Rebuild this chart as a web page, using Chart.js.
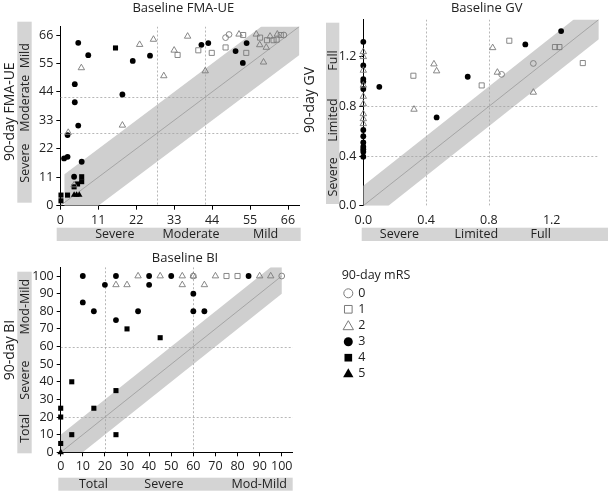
<!DOCTYPE html>
<html><head><meta charset="utf-8">
<script src="https://cdn.jsdelivr.net/npm/chart.js@4/dist/chart.umd.min.js"></script>
<style>
html,body{margin:0;padding:0;background:#fff;width:608px;height:493px;overflow:hidden;position:relative}
canvas{position:absolute}
</style></head><body>
<canvas id="c1" width="304" height="246" style="left:0;top:0"></canvas>
<canvas id="c2" width="308" height="246" style="left:300px;top:0"></canvas>
<canvas id="c3" width="608" height="247" style="left:0;top:246px"></canvas>
<script>
// ---------------- DATA ----------------
const MRS_LABELS = ['0', '1', '2', '3', '4', '5'];

const FMA_TICKS = [0, 11, 22, 33, 44, 55, 66];
const FMA_CUTS = [28, 42];
const FMA_LEVELS = ['Severe', 'Moderate', 'Mild'];
const FMA_MRS0 = [[47.9,65],[48.9,66.2],[64.8,66]];
const FMA_MRS1 = [[34,58.3],[40,60.1],[43.9,59.1],[47.9,61.2],[53,66],[53.9,59.1],[57.9,65],[59.9,64],[61.8,64],[62.7,64.2],[63.9,66]];
const FMA_MRS2 = [[6.1,53.3],[2.3,28.3],[4,8],[18,31.1],[23,62.3],[27,64.3],[30,50.2],[33,60.1],[36.9,65.5],[42,52.1],[51.8,66.3],[56.8,66.3],[57.8,62.2],[59.7,61.2],[58.9,55.5],[60.8,65.5],[62.9,66.3]];
const FMA_MRS3 = [[5.2,63],[8.1,58.2],[4.2,47],[4.2,40],[5.2,31],[2.1,27.3],[1.1,18.3],[2.1,18.9],[6.2,17],[4,11.2],[18,43],[21,56],[26,58],[40.9,62.2],[42.9,62.9],[50.8,59.8],[54,62.9],[52.9,55.2]];
const FMA_MRS4 = [[16,61],[0.2,4.1],[0.2,1.9],[2.1,4.1],[4,7.3],[5,8.4],[6.2,9.3],[6.2,11.2]];
const FMA_MRS5 = [[4,4.2],[4.7,4.2],[5.5,4.2]];

const GV_TICKS = [0, 0.4, 0.8, 1.2];
const GV_TICK_LABELS = ['0.0', '0.4', '0.8', '1.2'];
const GV_CUTS = [0.4, 0.8];
const GV_LEVELS = ['Severe', 'Limited', 'Full'];
const GV_MRS0 = [[1.083,1.146],[0.881,1.058]];
const GV_MRS1 = [[0.319,1.047],[0.754,0.969],[0.93,1.329],[1.221,1.278],[1.249,1.278],[1.398,1.149]];
const GV_MRS2 = [[0,1.24],[0,1.2],[0,1.09],[0,0.97],[0,0.88],[0,0.82],[0,0.74],[0,0.70],[0,0.66],[0.323,0.776],[0.45,1.141],[0.467,1.085],[0.824,1.272],[0.854,1.074],[1.083,0.913]];
const GV_MRS3 = [[0,1.32],[0,1.13],[0,1.02],[0,1.0],[0,0.94],[0,0.61],[0,0.56],[0,0.51],[0,0.475],[0,0.455],[0,0.435],[0,0.395],[0.102,0.958],[0.467,0.711],[0.665,1.039],[1.032,1.299],[1.26,1.407]];
const GV_MRS4 = [];
const GV_MRS5 = [];

const BI_TICKS = [0, 10, 20, 30, 40, 50, 60, 70, 80, 90, 100];
const BI_CUTS = [20, 60];
const BI_LEVELS = ['Total', 'Severe', 'Mod-Mild'];
const BI_MRS0 = [[60,100],[100,100]];
const BI_MRS1 = [[75,100],[80,100]];
const BI_MRS2 = [[25,95],[30,95],[35,100],[45,100],[55,100],[55,95],[60,100],[65,95],[70,100],[90,100],[95,100]];
const BI_MRS3 = [[10,100],[10,85],[15,80],[20,95],[25,100],[25,75],[35,80],[40,100],[40,95],[50,100],[60,90],[60,80],[65,80],[85,100]];
const BI_MRS4 = [[0,25],[0,20],[0,5],[5,40],[5,10],[15,25],[25,35],[25,10],[30,70],[45,65]];
const BI_MRS5 = [[0,0]];

// ---------------- STYLE ----------------
const FONT = '"Open Sans", "Noto Sans", sans-serif';
const TXT = '#222';
const BAR = '#d4d4d4';
const BAND = '#cfcfcf';
const OPEN = '#7a7a7a';
const MRS_STYLE = [
  {ps:'circle', r:2.9, fill:false},
  {ps:'rect', r:3.6, fill:false},
  {ps:'triangle', r:3.7, fill:false},
  {ps:'circle', r:2.9, fill:true},
  {ps:'rect', r:3.6, fill:true},
  {ps:'triangle', r:3.7, fill:true}
];

function markerSets(groups) {
  return groups.map((pts, i) => {
    const s = MRS_STYLE[i];
    return {
      type: 'scatter', label: MRS_LABELS[i], order: 0, clip: false,
      data: pts.map(([x, y]) => ({x, y})),
      pointStyle: s.ps, pointRadius: s.r, pointHoverRadius: s.r,
      pointBackgroundColor: s.fill ? '#000' : 'rgba(255,255,255,0)',
      pointBorderColor: s.fill ? '#000' : OPEN,
      pointBorderWidth: s.fill ? 0 : 0.9
    };
  });
}
function diagSet(end) {
  return {type:'line', order: 10, data:[{x:0,y:0},{x:end,y:end}], borderColor:'#9a9a9a', borderWidth:0.8, pointRadius:0, fill:false};
}

function drawMarker(ctx, ps, x, y, r, fill) {
  ctx.beginPath();
  if (ps === 'circle') ctx.arc(x, y, r, 0, Math.PI*2);
  else if (ps === 'rect') { const h = r*Math.SQRT1_2; ctx.rect(x-h, y-h, 2*h, 2*h); }
  else { ctx.moveTo(x, y-r); ctx.lineTo(x + r*Math.sin(2*Math.PI/3), y - r*Math.cos(2*Math.PI/3)); ctx.lineTo(x + r*Math.sin(4*Math.PI/3), y - r*Math.cos(4*Math.PI/3)); ctx.closePath(); }
  if (fill) { ctx.fillStyle = '#000'; ctx.fill(); } else { ctx.strokeStyle = OPEN; ctx.lineWidth = 1; ctx.stroke(); }
}

const decorPlugin = {
  id: 'decor',
  beforeDatasetsDraw(chart, args, o) {
    const {ctx, chartArea: a, scales: {x, y}} = chart;
    ctx.save();
    ctx.beginPath(); ctx.rect(a.left, a.top, a.right - a.left, a.bottom - a.top); ctx.clip();
    const w = o.bandHalf, x0 = o.bandStart, xe = o.bandEnd, ye = y.max;
    const poly = [[x0, 0], [x0, x0 + w], [ye - w, ye], [xe, ye], [xe, xe - w], [w, 0]];
    ctx.fillStyle = BAND; ctx.beginPath();
    poly.forEach(([px, py], i) => { const X = x.getPixelForValue(px), Y = y.getPixelForValue(py); i ? ctx.lineTo(X, Y) : ctx.moveTo(X, Y); });
    ctx.closePath(); ctx.fill();
    ctx.strokeStyle = '#a5a5a5'; ctx.lineWidth = 0.8; ctx.setLineDash([2, 2]);
    o.cuts.forEach(c => {
      const X = Math.round(x.getPixelForValue(c)) + 0.5;
      ctx.beginPath(); ctx.moveTo(X, a.top); ctx.lineTo(X, a.bottom); ctx.stroke();
      const Y = Math.round(y.getPixelForValue(c)) + 0.5;
      ctx.beginPath(); ctx.moveTo(a.left, Y); ctx.lineTo(a.right, Y); ctx.stroke();
    });
    ctx.restore();
  },
  afterDraw(chart, args, o) {
    const {ctx, scales: {x, y}} = chart;
    const ox = o.offset[0], oy = o.offset[1];
    ctx.save();
    // title
    ctx.fillStyle = TXT; ctx.font = `13px ${FONT}`; ctx.textAlign = 'center'; ctx.textBaseline = 'alphabetic';
    ctx.fillText(o.title, o.titlePos[0] - ox, o.titlePos[1] - oy);
    // severity bars
    ctx.fillStyle = BAR;
    ctx.fillRect(o.yBar[0] - ox, o.yBar[1] - oy, o.yBar[2], o.yBar[3]);
    ctx.fillRect(o.xBar[0] - ox, o.xBar[1] - oy, o.xBar[2], o.xBar[3]);
    ctx.fillStyle = TXT; ctx.font = `12.5px ${FONT}`; ctx.textBaseline = 'middle';
    o.levels.forEach((t, i) => {
      const Y = y.getPixelForValue(o.yLabelAt[i]);
      ctx.save(); ctx.translate(o.yBar[0] - ox + o.yBar[2] / 2 + 0.5, Y); ctx.rotate(-Math.PI / 2); ctx.fillText(t, 0, 0); ctx.restore();
      const X = x.getPixelForValue(o.xLabelAt[i]);
      ctx.fillText(t, X, o.xBar[1] - oy + o.xBar[3] / 2 + 0.5);
    });
    // y title
    ctx.font = `14px ${FONT}`;
    ctx.save(); ctx.translate(o.yTitlePos[0] - ox, o.yTitlePos[1] - oy); ctx.rotate(-Math.PI / 2); ctx.fillText(o.yTitle, 0, 0); ctx.restore();
    // legend
    if (o.legend) {
      const L = o.legend;
      ctx.font = `12.5px ${FONT}`; ctx.textAlign = 'left'; ctx.fillStyle = TXT;
      ctx.fillText(L.title, L.x - ox, L.titleY - oy);
      MRS_LABELS.forEach((lab, i) => {
        const s = MRS_STYLE[i];
        const cy = L.ys[i] - oy;
        drawMarker(ctx, s.ps, L.symX - ox, cy + (s.ps === 'triangle' ? 1 : 0), s.ps === 'circle' ? 4.5 : (s.ps === 'rect' ? 5.4 : 6.0), s.fill);
        ctx.fillStyle = TXT;
        ctx.fillText(lab, L.textX - ox, cy);
      });
    }
    ctx.restore();
  }
};

function axis(ticks, labels, min, max, isX, showLine) {
  return {
    type: 'linear', min, max,
    afterBuildTicks: ax => { ax.ticks = ticks.map(v => ({value: v})); },
    afterFit: s => { if (isX) s.height = 24; else s.width = 30; },
    ticks: {
      font: {family: FONT, size: 12.5}, color: TXT, padding: 3, autoSkip: false, maxRotation: 0,
      callback: v => labels ? labels[ticks.indexOf(v)] : String(v)
    },
    grid: {display: true, drawOnChartArea: false, drawTicks: true, tickLength: 4, color: showLine ? '#000' : 'rgba(0,0,0,0)', lineWidth: 1},
    border: {display: showLine, color: '#000', width: 1}
  };
}

function makeChart(id, groups, ticks, tickLabels, max, diagEnd, padding, decor, xLine) {
  return new Chart(document.getElementById(id), {
    type: 'scatter',
    data: {datasets: [diagSet(diagEnd), ...markerSets(groups)]},
    options: {
      responsive: false, animation: false, events: [],
      layout: {padding},
      scales: {x: axis(ticks, tickLabels, 0, max, true, xLine), y: axis(ticks, tickLabels, 0, max, false, true)},
      plugins: {legend: {display: false}, tooltip: {enabled: false}, decor}
    },
    plugins: [decorPlugin]
  });
}

makeChart('c1', [FMA_MRS0, FMA_MRS1, FMA_MRS2, FMA_MRS3, FMA_MRS4, FMA_MRS5], FMA_TICKS, null, 69.3, 69.3,
  {left: 30.3, right: 3.6, top: 26.5, bottom: 16.3},
  {offset: [0, 0], title: 'Baseline FMA-UE', titlePos: [183.3, 11.7], yTitle: '90-day FMA-UE', yTitlePos: [10.5, 111.7],
   yBar: [17.3, 21.7, 14.4, 181], xBar: [56.7, 227.7, 244, 13.3], levels: FMA_LEVELS,
   yLabelAt: [16.5, 39.6, 58], xLabelAt: [15.8, 37.9, 59.5], cuts: FMA_CUTS, bandHalf: 11, bandStart: 1.2, bandEnd: 69.3}, true);

makeChart('c2', [GV_MRS0, GV_MRS1, GV_MRS2, GV_MRS3, GV_MRS4, GV_MRS5], GV_TICKS, GV_TICK_LABELS, 1.5, 1.5,
  {left: 33.3, right: 9.2, top: 19.5, bottom: 16.3},
  {offset: [300, 0], title: 'Baseline GV', titlePos: [486.7, 11.7], yTitle: '90-day GV', yTitlePos: [310.5, 100],
   yBar: [326, 22.7, 13.3, 181.3], xBar: [361.7, 227.7, 246.3, 13.3], levels: GV_LEVELS,
   yLabelAt: [0.233, 0.69, 1.17], xLabelAt: [0.23, 0.72, 1.13], cuts: GV_CUTS, bandHalf: 0.16, bandStart: 0, bandEnd: 1.5}, false);

makeChart('c3', [BI_MRS0, BI_MRS1, BI_MRS2, BI_MRS3, BI_MRS4, BI_MRS5], BI_TICKS, null, 105, 100,
  {left: 30.7, right: 315.2, top: 21.2, bottom: 16.7},
  {offset: [0, 246], title: 'Baseline BI', titlePos: [185, 261.7], yTitle: '90-day BI', yTitlePos: [10.5, 350],
   yBar: [17.3, 271.7, 14.4, 181.6], xBar: [58.3, 477.7, 234.4, 13], levels: BI_LEVELS,
   yLabelAt: [13.6, 41, 82.6], xLabelAt: [14.8, 46.7, 89.8], cuts: BI_CUTS, bandHalf: 10, bandStart: 0, bandEnd: 100,
   legend: {title: '90-day mRS', x: 341.7, titleY: 275.7, symX: 348.3, textX: 358.3, ys: [293.3, 309.3, 325.7, 341.7, 357.7, 373.3]}}, true);
</script>
</body></html>
